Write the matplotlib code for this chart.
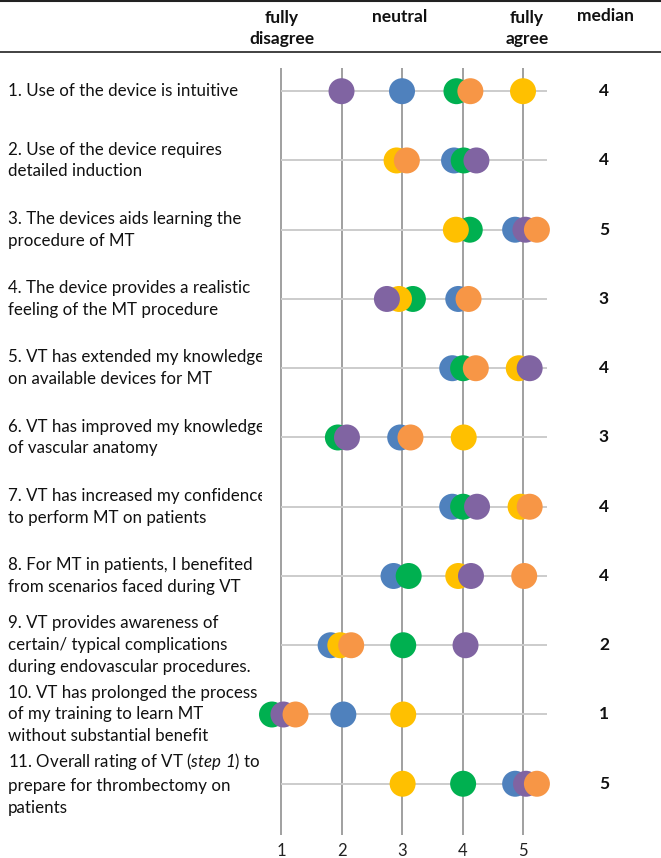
import matplotlib
matplotlib.use("Agg")
import matplotlib.pyplot as plt
import numpy as np

plt.rcParams['font.family'] = ['Lato', 'DejaVu Sans']
# mathtext is only used for the italic "step 1"
plt.rcParams['mathtext.fontset'] = 'custom'
plt.rcParams['mathtext.rm'] = 'Lato:italic'
plt.rcParams['mathtext.it'] = 'Lato:italic'

# survey items (rows, top to bottom)
items = [
    "1. Use of the device is intuitive",
    "2. Use of the device requires\ndetailed induction",
    "3. The devices aids learning the\nprocedure of MT",
    "4. The device provides a realistic\nfeeling of the MT procedure",
    "5. VT has extended my knowledge\non available devices for MT",
    "6. VT has improved my knowledge\nof vascular anatomy",
    "7. VT has increased my confidence\nto perform MT on patients",
    "8. For MT in patients, I benefited\nfrom scenarios faced during VT",
    "9. VT provides awareness of\ncertain/ typical complications\nduring endovascular procedures.",
    "10. VT has prolonged the process\nof my training to learn MT\nwithout substantial benefit",
    "11. Overall rating of VT ($step\\ 1$) to\nprepare for thrombectomy on\npatients",
]
medians = [4, 4, 5, 3, 4, 3, 4, 4, 2, 1, 5]

# ratings of the five participants (slightly jittered as in the original)
blue = [3.0, 3.86, 4.87, 3.93, 3.83, 2.97, 3.83, 2.86, 1.82, 2.03, 4.87]
green = [3.9, 4.02, 4.12, 3.18, 4.01, 1.94, 4.01, 3.11, 3.02, 0.85, 4.01]
yellow = [5.0, 2.91, 3.89, 2.95, 4.93, 4.02, 4.96, 3.93, 1.98, 3.02, 3.01]
purple = [2.0, 4.23, 5.04, 2.75, 5.11, 2.09, 4.24, 4.14, 4.05, 1.04, 5.05]
orange = [4.13, 3.08, 5.23, 4.1, 4.22, 3.14, 5.11, 5.02, 2.16, 1.24, 5.23]

scale_ticks = [1, 2, 3, 4, 5]

W, H = 661, 858
fig = plt.figure(figsize=(W / 100, H / 100), dpi=100)

rows = np.arange(len(items))
ylim = (10.74, -0.335)
ax_bottom = 1 - 835 / H
ax_height = (835 - 68) / H

# label area (clipped like the original table cell)
lab = fig.add_axes([0, ax_bottom, 262 / W, ax_height])
lab.set_xlim(0, 262)
lab.set_ylim(*ylim)
lab.axis('off')
for r, t in zip(rows, items):
    lab.text(8, r, t, ha='left', va='center', fontsize=12.2, linespacing=1.45,
             color='#111111', clip_on=True)

# rating area
left = 253.8 / W
ax = fig.add_axes([left, ax_bottom, 305.5 / W, ax_height])
ax.patch.set_alpha(0)
ax.set_xlim(0.55, 5.6)
ax.set_ylim(*ylim)
for s in ax.spines.values():
    s.set_visible(False)
ax.set_yticks([])
ax.set_xticks(scale_ticks)
ax.tick_params(axis='x', length=0, pad=6, labelsize=12, labelcolor='#222222')
for x in scale_ticks:
    ax.axvline(x, color='#a0a0a0', lw=1.4, zorder=0)
ax.hlines(rows, 1, 5.4, color='#cccccc', lw=1.4, zorder=1)

series = [(blue, '#4F81BD'), (green, '#00B050'), (yellow, '#FFC000'),
          (purple, '#8064A2'), (orange, '#F79646')]
for z, (vals, c) in enumerate(series):
    ax.scatter(vals, rows, s=350, color=c, edgecolors='none', zorder=3 + z,
               clip_on=False)

# medians
for r, m in zip(rows, medians):
    ax.text(5.6 + (604 - 559.3) / 60.5, r, str(m), ha='center', va='center',
            fontsize=12.5, fontweight='bold', color='#111111', clip_on=False)

# header
hdr = dict(ha='center', va='center', fontsize=12.5, fontweight='bold',
           linespacing=1.4, color='#111111')
fig.text(282 / W, 1 - 28.5 / H, "fully\ndisagree", **hdr)
fig.text(400 / W, 1 - 17 / H, "neutral", **hdr)
fig.text(527 / W, 1 - 28.5 / H, "fully\nagree", **hdr)
fig.text(605 / W, 1 - 16 / H, "median", **hdr)
fig.add_artist(plt.Line2D([0, 1], [1 - 1 / H, 1 - 1 / H], color='#222222', lw=1.5))
fig.add_artist(plt.Line2D([0, 1], [1 - 52 / H, 1 - 52 / H], color='#333333', lw=1.3))

fig.savefig('out.png', dpi=100)
